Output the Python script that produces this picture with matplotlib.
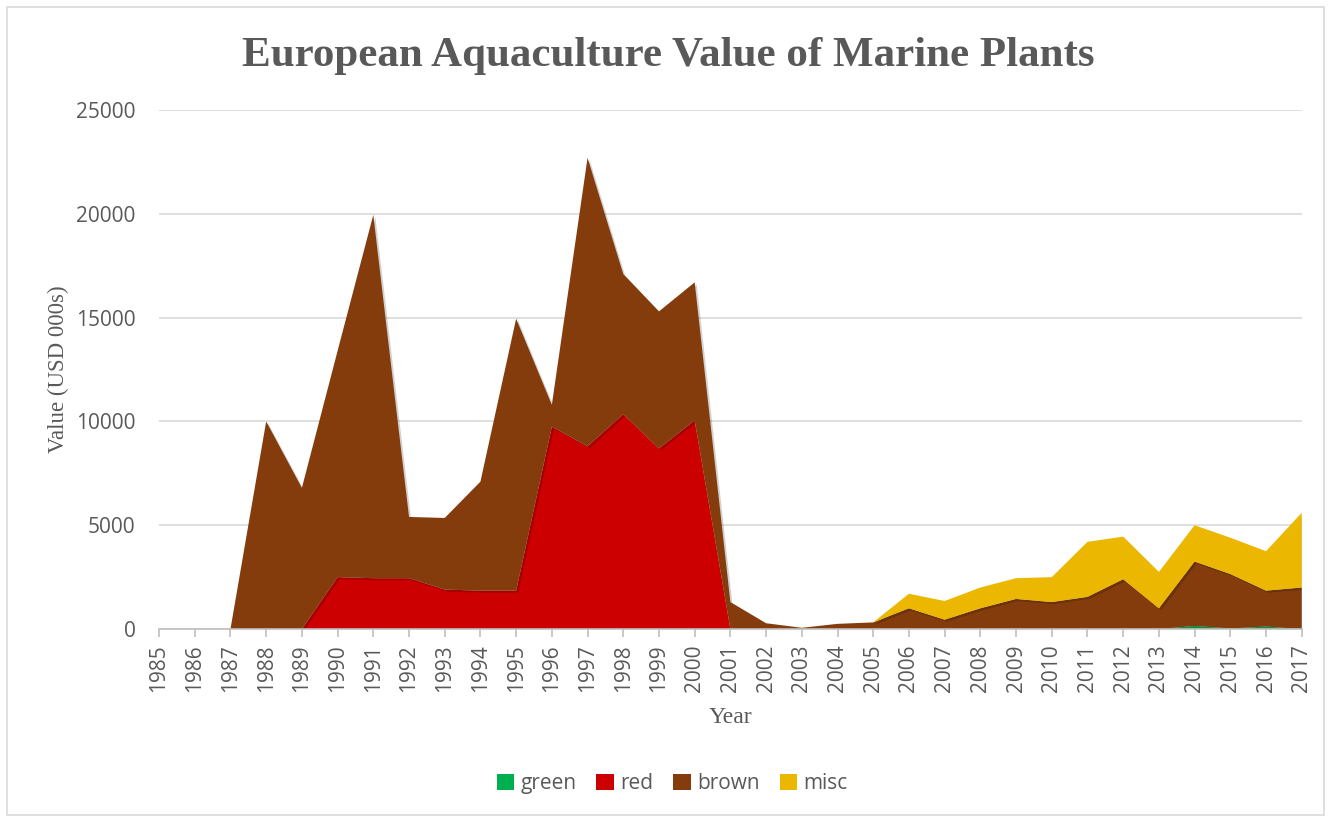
import matplotlib.pyplot as plt
import matplotlib.patheffects as pe
from matplotlib.patches import Patch, Rectangle
import numpy as np

years = list(range(1985, 2018))

# values in USD 000s, one entry per year 1985-2017
green = [0, 0, 0, 0, 0, 0, 0, 0, 0, 0, 0, 0, 0, 0, 0, 0, 0,
         0, 0, 0, 0, 0, 0, 0, 0, 0, 0, 0, 0, 150, 30, 120, 0]
red = [0, 0, 0, 0, 0, 2500, 2450, 2450, 1900, 1850, 1850, 9750, 8800, 10350, 8700, 10050, 0,
       0, 0, 0, 0, 0, 0, 0, 0, 0, 0, 0, 0, 0, 0, 0, 0]
brown = [0, 0, 0, 10000, 6800, 10900, 17500, 2950, 3450, 5250, 13100, 1050, 13900, 6750, 6600, 6650, 1300,
         280, 60, 250, 320, 1000, 450, 1000, 1450, 1300, 1550, 2400, 1000, 3100, 2620, 1730, 2000]
misc = [0, 0, 0, 0, 0, 0, 0, 0, 0, 0, 0, 0, 0, 0, 0, 0, 0,
        0, 0, 0, 0, 700, 900, 1000, 1000, 1200, 2650, 2050, 1750, 1750, 1750, 1900, 3600]

series = [("green", green, "#00B050"), ("red", red, "#CC0000"),
          ("brown", brown, "#843C0C"), ("misc", misc, "#EBB700")]

text_grey = "#595959"

fig = plt.figure(figsize=(13.31, 8.18), dpi=100)
fig.patches.append(Rectangle((0.005, 0.004), 0.99, 0.988, transform=fig.transFigure,
                             fill=False, edgecolor="#D9D9D9", linewidth=1.2))

ax = fig.add_axes([0.1195, 0.231, 0.8585, 0.6345])

x = np.array(years)
base = np.zeros(len(years))
for name, vals, col in series:
    top = base + np.array(vals)
    poly = ax.fill_between(x, base, top, color=col, linewidth=0, zorder=3)
    poly.set_path_effects([pe.SimplePatchShadow(offset=(1.5, -1.5), shadow_rgbFace="#000000", alpha=0.18),
                           pe.Normal()])
    base = top

ax.set_xlim(1985, 2017)
ax.set_ylim(0, 25000)
ax.set_yticks(range(0, 25001, 5000))
ax.set_xticks(years)
ax.set_xticklabels([str(y) for y in years], rotation=90)
ax.grid(axis="y", color="#D9D9D9", linewidth=1.2, zorder=0)

for side in ["left", "right", "top"]:
    ax.spines[side].set_visible(False)
ax.spines["bottom"].set_color("#BFBFBF")
ax.spines["bottom"].set_linewidth(1.2)
ax.spines["bottom"].set_zorder(4)
ax.tick_params(axis="y", length=0, pad=17, labelsize=15, labelcolor=text_grey)
ax.tick_params(axis="x", length=6, width=1.2, color="#BFBFBF", pad=5, labelsize=15,
               labelcolor=text_grey)
for lab in ax.get_xticklabels() + ax.get_yticklabels():
    lab.set_family("Open Sans")

fig.text(0.502, 0.932, "European Aquaculture Value of Marine Plants", ha="center", va="center",
         family="Liberation Serif", weight="bold", fontsize=31, color=text_grey)
ax.set_ylabel("Value (USD 000s)", family="Liberation Serif", fontsize=16.5, color=text_grey, labelpad=5)
ax.set_xlabel("Year", family="Liberation Serif", fontsize=17, color=text_grey, labelpad=11)

handles = [Patch(facecolor=col, edgecolor="none") for _, _, col in series]
fig.legend(handles, [n for n, _, _ in series], loc="center", bbox_to_anchor=(0.505, 0.042),
           ncol=4, frameon=False, handlelength=0.85, handleheight=0.85, handletextpad=0.3,
           columnspacing=0.95, prop={"family": "Open Sans", "size": 15}, labelcolor=text_grey)

fig.savefig("out.png", dpi=100)
